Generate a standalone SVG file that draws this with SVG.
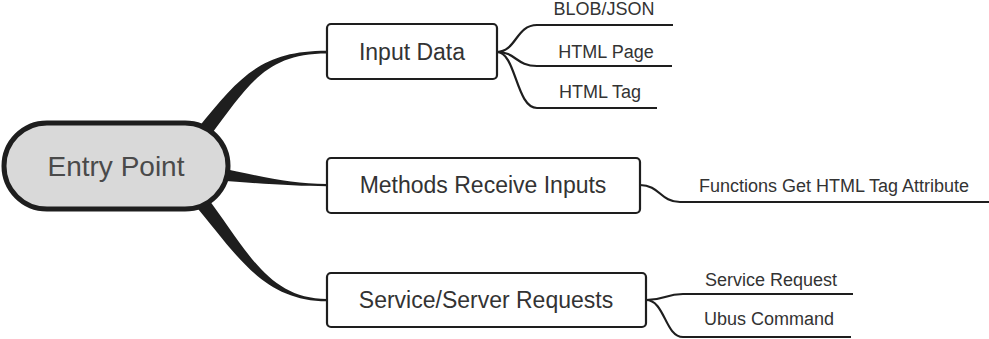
<svg xmlns="http://www.w3.org/2000/svg" width="989" height="339" viewBox="0 0 989 339">
  <style>
    .trunk { fill: #1e1e1e; stroke: none; }
    .branch { fill: none; stroke: #1e1e1e; stroke-width: 2.2; stroke-linecap: butt; }
    .box { fill: #ffffff; stroke: #1e1e1e; stroke-width: 2.2; }
    .root { fill: #d9d9d9; stroke: #1e1e1e; stroke-width: 5; }
    .t { font-family: "Liberation Sans", Arial, sans-serif; fill: #333333; text-anchor: middle; }
    .big { font-size: 23px; }
    .small { font-size: 18px; }
    .rootText { font-size: 28px; fill: #4a4a4a; }
  </style>
  <rect width="989" height="339" fill="#ffffff"/>

  <g id="connectors">
    <!-- tapered trunks from the root -->
    <path class="trunk" d="M 198 128 C 240 76, 262 50.8, 327 50.8 L 327 53.4 C 266 53.4, 249 84, 210 136 Z"/>
    <path class="trunk" d="M 215 167 C 265 177, 290 184, 327 184 L 327 186.2 C 295 186.2, 262 184, 215 180 Z"/>
    <path class="trunk" d="M 206 196 C 246 248, 267 299, 327 299 L 327 301.2 C 263 301.2, 236 254, 194 204 Z"/>
    <!-- Input Data leaves -->
    <path class="branch" d="M 497 52 C 516 52, 516 25, 537 25 L 673 25"/>
    <path class="branch" d="M 497 52 C 516 52, 516 66, 537 66 L 672 66"/>
    <path class="branch" d="M 497 52 C 516 52, 516 108, 537 108 L 657 108"/>
    <!-- Methods leaf -->
    <path class="branch" d="M 640 185 C 660 185, 660 202, 680 202 L 989 202"/>
    <!-- Service leaves -->
    <path class="branch" d="M 646 300 C 665 300, 665 294, 683 294 L 853 294"/>
    <path class="branch" d="M 646 300 C 665 300, 665 337, 683 337 L 851 337"/>
  </g>

  <g id="entry-point">
    <rect class="root" x="4" y="123" width="224" height="86" rx="43" ry="43"/>
    <text class="t rootText" x="116" y="176">Entry Point</text>
  </g>

  <g id="input-data">
    <rect class="box" x="327" y="24" width="170" height="55" rx="4"/>
    <text class="t big" x="412" y="60">Input Data</text>
  </g>

  <g id="methods-receive-inputs">
    <rect class="box" x="327" y="158" width="313" height="55" rx="4"/>
    <text class="t big" x="483" y="193">Methods Receive Inputs</text>
  </g>

  <g id="service-server-requests">
    <rect class="box" x="327" y="273" width="319" height="54" rx="4"/>
    <text class="t big" x="486" y="308">Service/Server Requests</text>
  </g>

  <g id="blob-json">
    <text class="t small" x="604" y="15">BLOB/JSON</text>
  </g>
  <g id="html-page">
    <text class="t small" x="606" y="58">HTML Page</text>
  </g>
  <g id="html-tag">
    <text class="t small" x="600" y="98">HTML Tag</text>
  </g>
  <g id="functions-get-html-tag-attribute">
    <text class="t small" x="834" y="192">Functions Get HTML Tag Attribute</text>
  </g>
  <g id="service-request">
    <text class="t small" x="771" y="286">Service Request</text>
  </g>
  <g id="ubus-command">
    <text class="t small" x="769" y="325">Ubus Command</text>
  </g>
</svg>
